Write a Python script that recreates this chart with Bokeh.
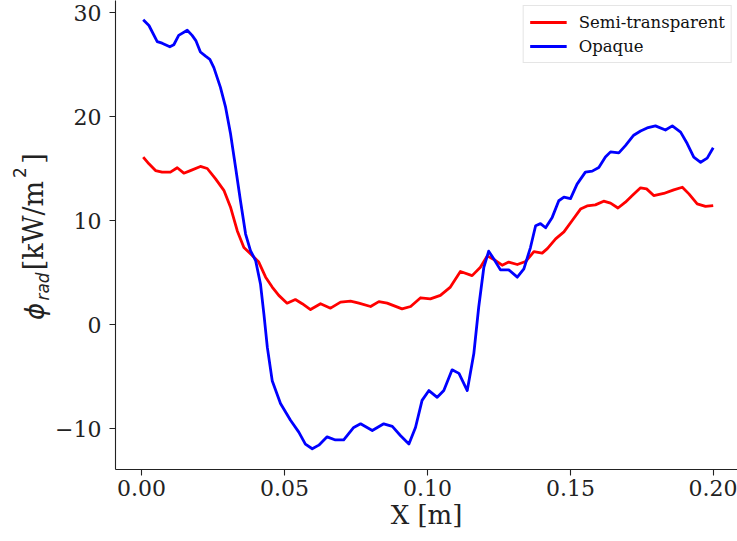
import math
from bokeh.plotting import figure
from bokeh.layouts import row
from bokeh.models import Range1d, FixedTicker, Legend, LegendItem
from bokeh.core.properties import value
from bokeh.embed import file_html
from bokeh.resources import INLINE

# ---- data ----
x_semi = [0.0006, 0.0026, 0.0049, 0.0072, 0.0101, 0.0125, 0.0148, 0.0171, 0.0206, 0.023,
          0.0259, 0.0288, 0.0311, 0.0335, 0.0358, 0.0381, 0.041, 0.0434, 0.0457, 0.048,
          0.0509, 0.0538, 0.0562, 0.0591, 0.0626, 0.0661, 0.0696, 0.0731, 0.076, 0.0801,
          0.083, 0.0859, 0.0911, 0.0941, 0.0976, 0.101, 0.1045, 0.108, 0.1115, 0.1156,
          0.1185, 0.1209, 0.1238, 0.1261, 0.1284, 0.1314, 0.1343, 0.1372, 0.1401, 0.1419,
          0.1448, 0.1477, 0.1506, 0.1535, 0.1558, 0.1587, 0.1616, 0.164, 0.1666, 0.1692,
          0.1716, 0.1745, 0.1766, 0.1791, 0.1826, 0.1861, 0.1891, 0.1914, 0.1943, 0.1972,
          0.1999]
y_semi = [16.1, 15.45, 14.8, 14.65, 14.65, 15.07, 14.55, 14.8, 15.2, 15.0,
          14.0, 12.9, 11.3, 9.0, 7.4, 6.8, 6.0, 4.55, 3.6, 2.8,
          2.05, 2.4, 2.0, 1.44, 2.0, 1.57, 2.15, 2.24, 2.05, 1.73,
          2.2, 2.05, 1.5, 1.73, 2.57, 2.47, 2.8, 3.6, 5.1, 4.7,
          5.5, 6.6, 6.15, 5.7, 6.0, 5.77, 6.06, 7.0, 6.86, 7.3,
          8.24, 8.9, 10.0, 11.1, 11.4, 11.5, 11.86, 11.67, 11.2, 11.76,
          12.4, 13.14, 13.04, 12.4, 12.6, 12.95, 13.2, 12.56, 11.6, 11.35,
          11.44]

x_opaque = [0.0006, 0.0026, 0.0055, 0.0072, 0.0099, 0.0113, 0.013, 0.016, 0.0177, 0.019,
            0.0206, 0.0224, 0.0239, 0.0253, 0.0276, 0.0294, 0.0311, 0.0329, 0.0346, 0.0364,
            0.0381, 0.0399, 0.0416, 0.0428, 0.044, 0.0457, 0.0486, 0.0521, 0.055, 0.0573,
            0.0597, 0.062, 0.0649, 0.0678, 0.0707, 0.0742, 0.0766, 0.0807, 0.0847, 0.0877,
            0.0906, 0.0935, 0.0958, 0.0981, 0.1005, 0.1034, 0.1057, 0.1086, 0.111, 0.1139,
            0.1162, 0.1179, 0.1197, 0.1214, 0.1232, 0.1255, 0.1284, 0.1314, 0.1337, 0.136,
            0.1378, 0.1395, 0.1413, 0.1436, 0.1459, 0.1477, 0.15, 0.1523, 0.1552, 0.1576,
            0.1599, 0.1622, 0.164, 0.1669, 0.1692, 0.1721, 0.1745, 0.1768, 0.1797, 0.1832,
            0.1856, 0.1885, 0.1908, 0.1931, 0.1955, 0.1978, 0.1999]
y_opaque = [29.3, 28.75, 27.2, 27.05, 26.7, 26.9, 27.8, 28.3, 27.8, 27.3,
            26.2, 25.8, 25.5, 24.7, 22.8, 20.9, 18.4, 15.1, 11.9, 8.7,
            7.1, 6.15, 3.9, 1.0, -2.2, -5.4, -7.6, -9.2, -10.35, -11.5,
            -11.95, -11.6, -10.8, -11.1, -11.1, -9.9, -9.55, -10.2, -9.55, -9.8,
            -10.7, -11.5, -9.9, -7.3, -6.35, -7.0, -6.35, -4.36, -4.7, -6.35,
            -2.8, 1.66, 5.5, 7.05, 6.3, 5.25, 5.25, 4.55, 5.35, 7.4,
            9.5, 9.7, 9.3, 10.3, 11.9, 12.25, 12.1, 13.5, 14.65, 14.75,
            15.1, 16.1, 16.6, 16.5, 17.2, 18.2, 18.6, 18.9, 19.1, 18.7,
            19.1, 18.5, 17.4, 16.1, 15.6, 16.0, 17.0]

series_names = ["Semi-transparent", "Opaque"]
x_ticks = [0.0, 0.05, 0.10, 0.15, 0.20]
x_tick_labels = ["0.00", "0.05", "0.10", "0.15", "0.20"]
y_ticks = [-10, 0, 10, 20, 30]
y_tick_labels = ["\u221210", "0", "10", "20", "30"]
x_title = "X [m]"
y_title_parts = ["\u03d5", "rad", "[kW/m", "2", "]"]

# ---- layout: page-pixel <-> data mapping (positions only) ----
W, H = 737, 541
LW = 52                      # width of the strip holding the y title
FRAME_L, FRAME_B = 115, 469  # frame left / bottom in page px
PX0, PXS = 141.0, 2860.0     # page x of X=0, px per unit
PY0, PYS = 324.0, 10.4       # page y of Y=0, px per unit


def dx(px):
    return (px - PX0) / PXS


def dy(py):
    return (PY0 - py) / PYS


AX = "#222222"

p = figure(width=W - LW, height=H, output_backend="svg", toolbar_location=None,
           x_range=Range1d(dx(FRAME_L), dx(W)), y_range=Range1d(dy(FRAME_B), dy(0)),
           min_border_left=FRAME_L - LW, min_border_right=0, min_border_top=0,
           min_border_bottom=H - FRAME_B,
           background_fill_color="white", border_fill_color="white")
p.outline_line_color = None
p.xgrid.visible = False
p.ygrid.visible = False

for ax in (p.xaxis[0], p.yaxis[0]):
    ax.axis_line_color = AX
    ax.axis_line_width = 1.1
    ax.major_tick_line_color = AX
    ax.major_tick_line_width = 1.1
    ax.major_tick_out = 6
    ax.major_tick_in = 0
    ax.minor_tick_line_color = None
    ax.major_label_text_font = "DejaVu Serif"
    ax.major_label_text_font_size = "22px"
    ax.major_label_text_color = AX

p.xaxis.ticker = FixedTicker(ticks=x_ticks)
p.xaxis.major_label_overrides = dict(zip(x_ticks, x_tick_labels))
p.xaxis.major_label_standoff = 4
p.xaxis.axis_label = x_title
p.xaxis.axis_label_text_font = "DejaVu Serif"
p.xaxis.axis_label_text_font_size = "26px"
p.xaxis.axis_label_text_font_style = "normal"
p.xaxis.axis_label_text_color = AX
p.xaxis.axis_label_standoff = 1

p.yaxis.ticker = FixedTicker(ticks=y_ticks)
p.yaxis.major_label_overrides = dict(zip(y_ticks, y_tick_labels))
p.yaxis.major_label_standoff = 8

r1 = p.line(x_semi, y_semi, line_color="#ff0000", line_width=2.8, line_join="round")
r2 = p.line(x_opaque, y_opaque, line_color="#0000ff", line_width=2.8, line_join="round")

legend = Legend(items=[LegendItem(label=series_names[0], renderers=[r1]),
                       LegendItem(label=series_names[1], renderers=[r2])],
                location="top_right", margin=5)
legend.label_text_font = "DejaVu Serif"
legend.label_text_font_size = "16.5px"
legend.label_text_color = "#111111"
legend.glyph_width = 37
legend.glyph_height = 20
legend.label_height = 20
legend.label_standoff = 12
legend.spacing = 4
legend.padding = 6
legend.border_line_color = "#cccccc"
legend.border_line_width = 1
legend.background_fill_alpha = 0.8
p.add_layout(legend)

# ---- narrow strip at the left with the y title (phi_rad [kW/m^2]) ----
# the row aligns this strip's frame with the main frame (page y 0..469),
# so its y range covers page y 469 (bottom) .. 0 (top), stored as H - page_y
t = figure(width=LW, height=H, output_backend="svg", toolbar_location=None,
           x_range=Range1d(0, LW), y_range=Range1d(H - FRAME_B, H),
           x_axis_type=None, y_axis_type=None,
           min_border_left=0, min_border_right=0, min_border_top=0, min_border_bottom=0,
           background_fill_color="white", border_fill_color="white")
t.outline_line_color = None
t.xgrid.visible = False
t.ygrid.visible = False

piece_style = [
    # (page x of centre, page y of centre, font, style, size)
    (34, 311, "DejaVu Sans", "italic", "26px"),
    (42, 286, "DejaVu Sans", "italic", "17px"),
    (33, 225, "DejaVu Serif", "normal", "27px"),
    (19, 172, "DejaVu Sans", "normal", "17px"),
    (33, 158, "DejaVu Serif", "normal", "27px"),
]
for txt, (px, py, fnt, sty, size) in zip(y_title_parts, piece_style):
    t.text(x=[px], y=[H - py], text=[txt], angle=math.pi / 2, text_align="center",
           text_baseline="middle", text_font=value(fnt), text_font_style=sty,
           text_font_size=size, text_color=AX)

layout = row(t, p, spacing=0)
open("out.html", "w").write(file_html(layout, INLINE))
